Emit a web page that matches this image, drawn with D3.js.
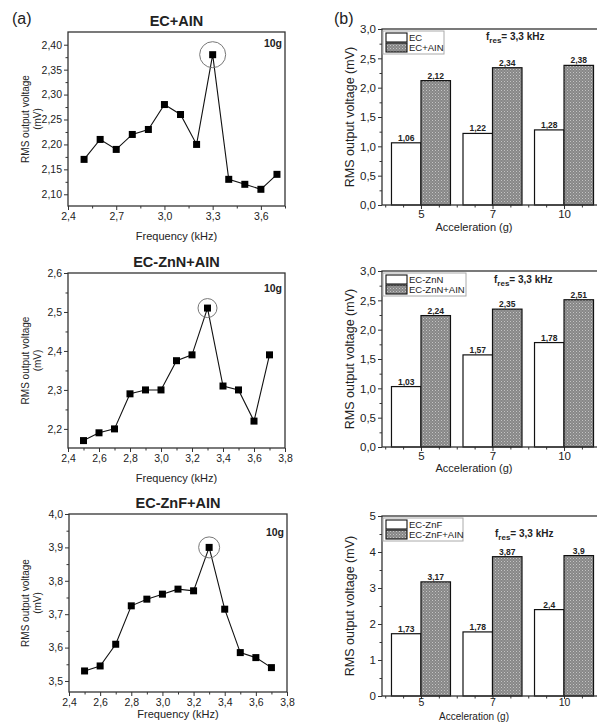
<!DOCTYPE html>
<meta charset="utf-8">
<script src="https://d3js.org/d3.v7.min.js"></script>
<style>
body { margin: 0; background: #fff; }
text { font-family: "Liberation Sans", Arial, sans-serif; fill: #222; }
</style>
<body>
<script>
// ---- data ----
var freq = [2.5, 2.6, 2.7, 2.8, 2.9, 3.0, 3.1, 3.2, 3.3, 3.4, 3.5, 3.6, 3.7];
var voltEcAin  = [2.17, 2.21, 2.19, 2.22, 2.23, 2.28, 2.26, 2.20, 2.38, 2.13, 2.12, 2.11, 2.14];
var voltZnNAin = [2.17, 2.19, 2.20, 2.29, 2.30, 2.30, 2.375, 2.39, 2.51, 2.31, 2.30, 2.22, 2.39];
var voltZnFAin = [3.53, 3.545, 3.61, 3.725, 3.745, 3.76, 3.775, 3.77, 3.90, 3.715, 3.585, 3.57, 3.54];

var accel = ["5", "7", "10"];
var ec      = [1.06, 1.22, 1.28];
var ecAin   = [2.12, 2.34, 2.38];
var znN     = [1.03, 1.57, 1.78];
var znNAin  = [2.24, 2.35, 2.51];
var znF     = [1.73, 1.78, 2.4];
var znFAin  = [3.17, 3.87, 3.9];

// tick labels
var xTicksA = [2.4, 2.7, 3.0, 3.3, 3.6];
var xTicksB = [2.4, 2.6, 2.8, 3.0, 3.2, 3.4, 3.6, 3.8];
var yTicks1 = [2.10, 2.15, 2.20, 2.25, 2.30, 2.35, 2.40];
var yTicks2 = [2.2, 2.3, 2.4, 2.5, 2.6];
var yTicks3 = [3.5, 3.6, 3.7, 3.8, 3.9, 4.0];
var yTicksBar = [0, 0.5, 1.0, 1.5, 2.0, 2.5, 3.0];
var yTicksBar3 = [0, 1, 2, 3, 4, 5];

var comma = function(n) { return function(d) { return d.toFixed(n).replace(".", ","); }; };

var svg = d3.select("body").append("svg")
    .attr("width", 597)
    .attr("height", 722);

// fill for the dark bars
var pat = svg.append("defs").append("pattern")
    .attr("id", "dots")
    .attr("width", 3).attr("height", 3)
    .attr("patternUnits", "userSpaceOnUse");
pat.append("rect").attr("width", 3).attr("height", 3).attr("fill", "#878787");
pat.append("rect").attr("width", 1).attr("height", 1).attr("fill", "#c4c4c4");
pat.append("rect").attr("x", 1.5).attr("y", 1.5).attr("width", 1).attr("height", 1).attr("fill", "#b0b0b0");

function styleAxis(g, size) {
  g.select(".domain").remove();
  g.selectAll("line").attr("stroke", "#333").attr("stroke-width", 1);
  g.selectAll("text").style("font-size", size + "px").style("font-family", "Liberation Sans, Arial").attr("fill", "#333");
}

// ---- line panels (a) ----
function linePanel(o) {
  var x = d3.scaleLinear().domain(o.xDom).range([o.left, o.right]);
  var y = d3.scaleLinear().domain(o.yDom).range([o.bottom, o.top]);
  var g = svg.append("g");

  // minor ticks
  g.append("g").attr("transform", "translate(0," + o.bottom + ")")
    .call(d3.axisBottom(x).tickValues(o.xMinor).tickSize(2.5).tickFormat(""))
    .call(styleAxis, 10);
  g.append("g").attr("transform", "translate(" + o.left + ",0)")
    .call(d3.axisLeft(y).tickValues(o.yMinor).tickSize(2.5).tickFormat(""))
    .call(styleAxis, 10);

  // major ticks
  g.append("g").attr("transform", "translate(0," + o.bottom + ")")
    .call(d3.axisBottom(x).tickValues(o.xTicks).tickSize(4).tickPadding(3).tickFormat(comma(1)))
    .call(styleAxis, 10.5);
  g.append("g").attr("transform", "translate(" + o.left + ",0)")
    .call(d3.axisLeft(y).tickValues(o.yTicks).tickSize(4).tickPadding(2).tickFormat(comma(o.yDec)))
    .call(styleAxis, 10.5);

  // frame
  g.append("rect")
    .attr("x", o.left).attr("y", o.top)
    .attr("width", o.right - o.left).attr("height", o.bottom - o.top)
    .attr("fill", "none").attr("stroke", "#333").attr("stroke-width", 1.3);

  var pts = freq.map(function(f, i) { return [f, o.vals[i]]; });
  g.append("path")
    .datum(pts)
    .attr("fill", "none")
    .attr("stroke", "#111")
    .attr("stroke-width", 1.1)
    .attr("d", d3.line().x(function(d) { return x(d[0]); }).y(function(d) { return y(d[1]); }));

  g.selectAll("rect.pt")
    .data(pts)
    .enter()
    .append("rect")
      .attr("class", "pt")
      .attr("x", function(d) { return x(d[0]) - 3.5; })
      .attr("y", function(d) { return y(d[1]) - 3.5; })
      .attr("width", 7).attr("height", 7)
      .attr("fill", "#000");

  // circle round the peak
  var peak = pts[d3.maxIndex(o.vals)];
  g.append("circle")
    .attr("cx", x(peak[0])).attr("cy", y(peak[1]))
    .attr("r", o.ring)
    .attr("fill", "none").attr("stroke", "#777").attr("stroke-width", 1);

  g.append("text")
    .attr("x", (o.left + o.right) / 2).attr("y", o.top - 6)
    .attr("text-anchor", "middle")
    .style("font-size", "14.5px").style("font-weight", "bold")
    .text(o.title);
  g.append("text")
    .attr("x", o.right - 3).attr("y", o.gY)
    .attr("text-anchor", "end")
    .style("font-size", "10.5px").style("font-weight", "bold")
    .text("10g");

  var cy = (o.top + o.bottom) / 2;
  g.append("text")
    .attr("transform", "translate(29," + cy + ") rotate(-90)")
    .attr("text-anchor", "middle")
    .style("font-size", "10px")
    .text("RMS output voltage");
  g.append("text")
    .attr("transform", "translate(40.5," + cy + ") rotate(-90)")
    .attr("text-anchor", "middle")
    .style("font-size", "10px")
    .text("(mV)");
  g.append("text")
    .attr("x", (o.left + o.right) / 2).attr("y", o.labY)
    .attr("text-anchor", "middle")
    .style("font-size", "11px")
    .text("Frequency (kHz)");
}

linePanel({ left: 68, right: 285, top: 32, bottom: 206, xDom: [2.4, 3.75], yDom: [2.0765, 2.4255],
  xTicks: xTicksA, xMinor: d3.range(2.55, 3.76, 0.3), yTicks: yTicks1, yMinor: d3.range(2.125, 2.42, 0.05), yDec: 2,
  vals: voltEcAin, ring: 13, title: "EC+AIN", gY: 47, labY: 240 });
linePanel({ left: 68, right: 285, top: 273, bottom: 448, xDom: [2.4, 3.8], yDom: [2.151, 2.6],
  xTicks: xTicksB, xMinor: d3.range(2.5, 3.8, 0.2), yTicks: yTicks2, yMinor: d3.range(2.25, 2.6, 0.1), yDec: 1,
  vals: voltZnNAin, ring: 9.5, title: "EC-ZnN+AIN", gY: 292, labY: 482 });
linePanel({ left: 69, right: 287, top: 514, bottom: 692, xDom: [2.4, 3.8], yDom: [3.467, 4.0],
  xTicks: xTicksB, xMinor: d3.range(2.5, 3.8, 0.2), yTicks: yTicks3, yMinor: d3.range(3.55, 4.0, 0.1), yDec: 1,
  vals: voltZnFAin, ring: 10.5, title: "EC-ZnF+AIN", gY: 536, labY: 718 });

svg.append("text").attr("x", 12).attr("y", 24).style("font-size", "16px").text("(a)");
svg.append("text").attr("x", 334).attr("y", 24).style("font-size", "16px").text("(b)");

// ---- bar panels (b) ----
function barPanel(o) {
  var x = d3.scalePoint().domain(accel).range([382, 603]).padding(0.545);
  var y = d3.scaleLinear().domain([0, o.yMax]).range([o.bottom, o.top]);
  var bw = 29.5;
  var g = svg.append("g");

  var xi = d3.scaleLinear().domain([0, 2]).range([x(accel[0]), x(accel[2])]);
  g.append("g").attr("transform", "translate(0," + o.bottom + ")")
    .call(d3.axisBottom(xi).tickValues(d3.range(-0.5, 2.6, 0.25).filter(function(v) { return v % 1 !== 0; })).tickSize(2.5).tickFormat(""))
    .call(styleAxis, 10);
  g.append("g").attr("transform", "translate(0," + o.bottom + ")")
    .call(d3.axisBottom(x).tickSize(o.xTick).tickPadding(o.xPad))
    .call(styleAxis, o.xFont);
  g.append("g").attr("transform", "translate(382,0)")
    .call(d3.axisLeft(y).tickValues(o.yMinor).tickSize(2.5).tickFormat(""))
    .call(styleAxis, 10);
  g.append("g").attr("transform", "translate(382,0)")
    .call(d3.axisLeft(y).tickValues(o.yTicks).tickSize(4).tickPadding(2).tickFormat(o.fmt))
    .call(styleAxis, 11.5);

  // bars
  g.selectAll("rect.w")
    .data(o.base)
    .enter()
    .append("rect")
      .attr("x", function(d, i) { return x(accel[i]) - bw; })
      .attr("y", function(d) { return y(d); })
      .attr("width", bw)
      .attr("height", function(d) { return o.bottom - y(d); })
      .attr("fill", "#fff").attr("stroke", "#111").attr("stroke-width", 1.2);
  g.selectAll("rect.d")
    .data(o.ain)
    .enter()
    .append("rect")
      .attr("x", function(d, i) { return x(accel[i]); })
      .attr("y", function(d) { return y(d); })
      .attr("width", bw)
      .attr("height", function(d) { return o.bottom - y(d); })
      .attr("fill", "url(#dots)").attr("stroke", "#111").attr("stroke-width", 1.2);

  // value labels
  var lab = function(d) { return String(d).replace(".", ","); };
  g.selectAll("text.vw")
    .data(o.base).enter().append("text")
      .attr("x", function(d, i) { return x(accel[i]) - bw / 2; })
      .attr("y", function(d) { return y(d) - 2; })
      .attr("text-anchor", "middle")
      .style("font-size", "8.5px").style("font-weight", "bold")
      .text(lab);
  g.selectAll("text.vd")
    .data(o.ain).enter().append("text")
      .attr("x", function(d, i) { return x(accel[i]) + bw / 2; })
      .attr("y", function(d) { return y(d) - 2; })
      .attr("text-anchor", "middle")
      .style("font-size", "8.5px").style("font-weight", "bold")
      .text(lab);

  // frame (right side is off the page)
  g.append("rect")
    .attr("x", 382).attr("y", o.top)
    .attr("width", 603 - 382).attr("height", o.bottom - o.top)
    .attr("fill", "none").attr("stroke", "#333").attr("stroke-width", 1.3);

  // legend
  var lx = 383, ly = o.top + 2;
  g.append("rect").attr("x", lx).attr("y", ly).attr("width", o.legW).attr("height", 23)
    .attr("fill", "#fff").attr("stroke", "#aaa").attr("stroke-width", 1);
  g.append("rect").attr("x", lx + 3).attr("y", ly + 2).attr("width", 21).attr("height", 9)
    .attr("fill", "#fff").attr("stroke", "#111").attr("stroke-width", 1.1);
  g.append("rect").attr("x", lx + 3).attr("y", ly + 12).attr("width", 21).attr("height", 9)
    .attr("fill", "url(#dots)").attr("stroke", "#111").attr("stroke-width", 1.1);
  g.append("text").attr("x", lx + 26).attr("y", ly + 10).style("font-size", "9.5px").text(o.names[0]);
  g.append("text").attr("x", lx + 26).attr("y", ly + 20).style("font-size", "9.5px").text(o.names[1]);

  var f = g.append("text").attr("x", o.fx).attr("y", o.fy)
    .style("font-size", "10px").style("font-weight", "bold");
  f.append("tspan").text("f");
  f.append("tspan").attr("dy", 3).style("font-size", "8px").text("res");
  f.append("tspan").attr("dy", -3).text("= 3,3 kHz");

  g.append("text")
    .attr("transform", "translate(354," + (o.top + o.bottom) / 2 + ") rotate(-90)")
    .attr("text-anchor", "middle")
    .style("font-size", "12.5px")
    .text("RMS output voltage (mV)");
  g.append("text")
    .attr("x", 474).attr("y", o.labY)
    .attr("text-anchor", "middle")
    .style("font-size", o.labFont + "px")
    .text("Acceleration (g)");
}

barPanel({ top: 29, bottom: 205, yMax: 3, yTicks: yTicksBar, yMinor: d3.range(0.25, 3, 0.5), fmt: comma(1),
  base: ec, ain: ecAin, names: ["EC", "EC+AIN"], legW: 61, fx: 486, fy: 40, labY: 231,
  xTick: 4, xPad: 1, xFont: 11.5, labFont: 11 });
barPanel({ top: 271, bottom: 447, yMax: 3, yTicks: yTicksBar, yMinor: d3.range(0.25, 3, 0.5), fmt: comma(1),
  base: znN, ain: znNAin, names: ["EC-ZnN", "EC-ZnN+AIN"], legW: 83, fx: 494, fy: 283, labY: 472,
  xTick: 4, xPad: 1, xFont: 11.5, labFont: 11 });
barPanel({ top: 516, bottom: 696, yMax: 5, yTicks: yTicksBar3, yMinor: d3.range(0.5, 5, 1), fmt: d3.format("d"),
  base: znF, ain: znFAin, names: ["EC-ZnF", "EC-ZnF+AIN"], legW: 80, fx: 495, fy: 537, labY: 720,
  xTick: 3, xPad: 0, xFont: 10.5, labFont: 10 });
</script>
</body>
